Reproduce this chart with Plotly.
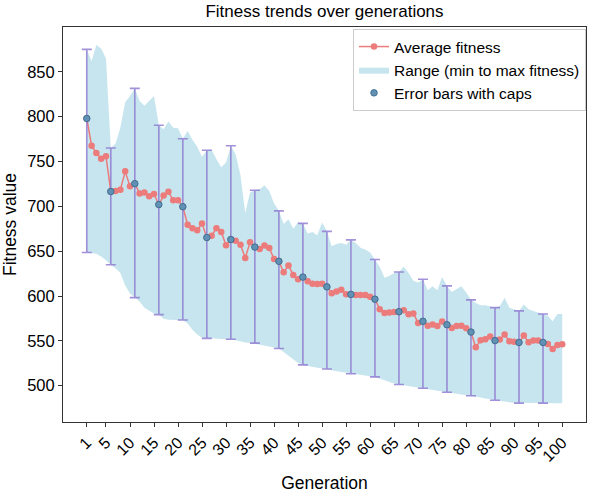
import plotly.graph_objects as go

generations = list(range(1, 101))

avg_fitness = [
    798, 767.6, 759.5, 753, 756, 716.5, 717, 718.6, 739, 722.5,
    725.3, 714.4, 715.4, 711.2, 713.7, 702, 712, 716.2, 706.7, 706.7,
    699.6, 679.5, 675.7, 673.2, 681, 665.2, 667.3, 675.7, 671.5, 656.7,
    663, 661.6, 657.3, 642.5, 659.9, 654.6, 652.5, 656.3, 653.5, 641.2,
    638.7, 626.4, 634.1, 623.5, 618.7, 621.1, 616.6, 613.7, 613.4, 613.7,
    610.2, 603.1, 604.9, 607, 602.1, 601.8, 601, 601, 601, 599.2,
    596.5, 585.2, 581, 581.7, 582.3, 582.5, 584, 579.7, 580.6, 570,
    571.8, 566.9, 568.3, 566.5, 571.5, 568, 564.4, 566.5, 566.9, 564,
    559.8, 542.9, 550.6, 551.7, 554.9, 550.3, 551.4, 557, 549.6, 549,
    548.2, 556, 548.5, 550.3, 550.3, 548.2, 546.4, 540.8, 545.4, 546.1,
]

max_fitness = [
    875, 862, 880, 876, 865, 765, 770, 788, 816, 823,
    831.6, 817.6, 812.3, 817.6, 823, 790.4, 786, 794.7, 787.7, 787,
    775.3, 784, 774.3, 766.5, 755.3, 762.6, 763, 752.4, 743.6, 748.9,
    767.6, 757.7, 734.9, 692.6, 715.4, 718, 719, 723.6, 717, 703.2,
    695, 680.4, 685.6, 675, 682, 681, 669.7, 671.5, 667.9, 682,
    672.1, 655.6, 658, 659.1, 657.3, 662.6, 659.1, 653.8, 652, 648.6,
    640.8, 632.7, 620.4, 622.2, 625.7, 626.7, 632.7, 625.7, 616.9, 615.1,
    618.7, 606.3, 610.8, 606.3, 621.1, 611.3, 604.5, 607.4, 610.8, 603.9,
    595.7, 592.2, 589.7, 589.7, 588.7, 587, 588.7, 598.2, 587, 585.2,
    583.4, 590.5, 585.2, 583.4, 581.7, 580, 578.1, 571.8, 580, 580,
]

min_fitness = [
    648.6, 648, 647, 644, 639.8, 634.8, 631, 625.6, 611.6, 602.8,
    598.2, 594, 587, 583.4, 580.6, 579.2, 574.6, 573.6, 573.2, 573.2,
    573.2, 569.3, 562.3, 557, 553.5, 552.8, 552.5, 552.2, 552, 551.8,
    551.7, 551, 549.6, 548.2, 548, 547.5, 546.4, 544.7, 543.7, 542.6,
    541.5, 537.7, 533.4, 528.9, 525.3, 523.2, 522.1, 521.1, 520, 519.4,
    518.6, 517.3, 516.2, 515.1, 514.1, 513.3, 512.6, 511.9, 511.2, 510.5,
    509.8, 507.8, 506, 504.2, 502.5, 501.4, 500.5, 499.6, 498.7, 497.9,
    497.2, 496.3, 495.4, 494.4, 493.5, 492.6, 491.8, 491, 490.2, 489.5,
    488.7, 487.7, 486.7, 485.8, 484.8, 483.8, 483, 482.3, 481.6, 481,
    480.6, 480.5, 480.5, 480.5, 480.5, 480.5, 480.5, 480.5, 480.5, 480.5,
]

x_tick_vals = [1] + list(range(5, 101, 5))
x_tick_text = [str(v) for v in x_tick_vals]
y_tick_vals = [500, 550, 600, 650, 700, 750, 800, 850]

err_idx = list(range(0, 100, 5))
err_x = [generations[i] for i in err_idx]
err_y = [avg_fitness[i] for i in err_idx]
err_plus = [max_fitness[i] - avg_fitness[i] for i in err_idx]
err_minus = [avg_fitness[i] - min_fitness[i] for i in err_idx]

FONT = "Liberation Sans, Arial, sans-serif"

fig = go.Figure()

fig.add_trace(go.Scatter(
    x=generations + generations[::-1],
    y=max_fitness + min_fitness[::-1],
    fill="toself",
    fillcolor="rgba(173,216,230,0.68)",
    line=dict(width=0, color="rgba(173,216,230,0)"),
    mode="lines",
    name="Range (min to max fitness)",
    legendrank=2,
    hoverinfo="skip",
))

fig.add_trace(go.Scatter(
    x=generations, y=avg_fitness,
    mode="lines+markers",
    line=dict(color="#ec7b7b", width=1.5),
    marker=dict(color="#ec7b7b", size=6.5),
    name="Average fitness",
    legendrank=1,
))

fig.add_trace(go.Scatter(
    x=err_x, y=err_y,
    mode="markers",
    marker=dict(color="#6191b4", size=6.5, line=dict(color="#3f6f93", width=1)),
    error_y=dict(type="data", symmetric=False, array=err_plus, arrayminus=err_minus,
                 color="rgba(140,118,208,0.8)", thickness=1.6, width=5),
    name="Error bars with caps",
    legendrank=3,
))

fig.update_layout(
    width=596, height=498,
    margin=dict(l=62, r=9, t=27, b=54),
    paper_bgcolor="white", plot_bgcolor="white",
    font=dict(family=FONT, size=16, color="black"),
    title=dict(text="Fitness trends over generations", x=0.5, xref="paper", xanchor="center",
               y=1, yref="container", yanchor="top", pad=dict(t=5),
               font=dict(size=17, family=FONT, color="black")),
    showlegend=True,
    legend=dict(x=1, xanchor="right", y=0.995, yanchor="top", bgcolor="rgba(255,255,255,0.85)",
                bordercolor="#cccccc", borderwidth=1, font=dict(size=15.5, family=FONT),
                itemwidth=30, tracegroupgap=0),
)

fig.update_xaxes(
    range=[-3.95, 104.95], tickvals=x_tick_vals, ticktext=x_tick_text, tickangle=-45,
    showgrid=False, zeroline=False, showline=True, linecolor="#333333", linewidth=1, mirror=True,
    ticks="outside", ticklen=4, tickcolor="#333333", tickfont=dict(size=16),
    title=dict(text="Generation", font=dict(size=17.5), standoff=12),
)
fig.update_yaxes(
    range=[459.5, 900], tickvals=y_tick_vals,
    showgrid=False, zeroline=False, showline=True, linecolor="#333333", linewidth=1, mirror=True,
    ticks="outside", ticklen=4, tickcolor="#333333", tickfont=dict(size=16.5),
    title=dict(text="Fitness value", font=dict(size=17.5), standoff=6),
)

fig.write_html("out.html")
